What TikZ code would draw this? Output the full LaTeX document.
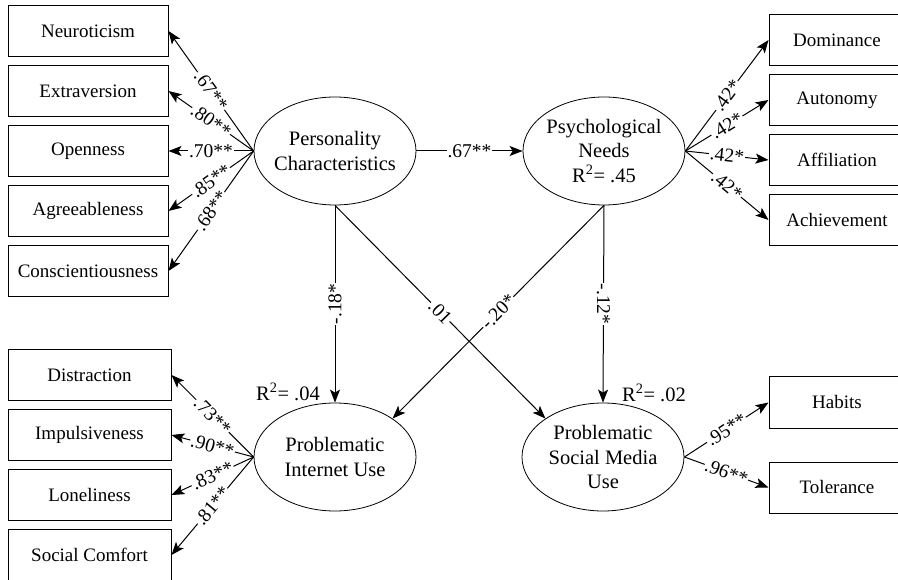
\documentclass[tikz,border=0pt]{standalone}
\usepackage{fontspec}
\setmainfont{Liberation Serif}
\usetikzlibrary{arrows.meta,shapes.geometric}

\tikzset{
  obsbox/.style={draw, line width=1pt, minimum height=51pt, inner sep=0pt, font=\fontsize{19}{22}\selectfont},
  latent/.style={draw, ellipse, line width=0.8pt, minimum width=162pt, minimum height=108pt,
    inner xsep=-5pt, inner ysep=0pt, align=center, font=\fontsize{20.5}{24.5}\selectfont},
  arr/.style={line width=1pt, -{Stealth[length=13pt,width=10pt,inset=3pt]}},
  lbl/.style={fill=white, inner sep=1pt, font=\fontsize{19.5}{22}\selectfont}
}

\begin{document}
\begin{tikzpicture}[x=1pt,y=-1pt]
    \useasboundingbox (0,0) rectangle (898,580);

    % draw latent variables
    \node[latent] (pc) at (335,151) {Personality\\Characteristics};
    \node[latent] (pn) at (604,151) {Psychological\\Needs\\R\textsuperscript{2}= .45};
    \node[latent] (piu) at (335,457) {Problematic\\Internet Use};
    \node[latent] (psmu) at (603,457) {Problematic\\Social Media\\Use};

    % draw personality indicators
    \foreach \name/\txt/\y/\val in {neuro/Neuroticism/31/.67**, extra/Extraversion/91/.80**,
        open/Openness/151/.70**, agree/Agreeableness/211/.85**, consc/Conscientiousness/271/.68**}
    {
        \node[obsbox, minimum width=160pt] (\name) at (88,\y) {\txt};
        \draw[arr] (pc.west) -- node[lbl, sloped]{\val} (\name.east);
    }

    % draw needs indicators
    \foreach \name/\txt/\y in {dom/Dominance/40, auto/Autonomy/100, affil/Affiliation/160, achiev/Achievement/220}
    {
        \node[obsbox, minimum width=136pt] (\name) at (837,\y) {\txt};
        \draw[arr] (pn.east) -- node[lbl, sloped]{.42*} (\name.west);
    }

    % draw internet use indicators
    \foreach \name/\txt/\y/\val in {distr/Distraction/375/.73**, impul/Impulsiveness/435/.90**,
        lonel/Loneliness/495/.83**, comf/Social Comfort/555/.81**}
    {
        \node[obsbox, minimum width=163pt] (\name) at (89.5,\y) {\txt};
        \draw[arr] (piu.west) -- node[lbl, sloped]{\val} (\name.east);
    }

    % draw social media indicators
    \foreach \name/\txt/\y/\val in {habit/Habits/402.5/.95**, toler/Tolerance/487.5/.96**}
    {
        \node[obsbox, minimum width=136pt] (\name) at (837,\y) {\txt};
        \draw[arr] (psmu.east) -- node[lbl, sloped]{\val} (\name.west);
    }

    % draw structural paths
    \draw[arr] (pc) -- node[lbl]{.67**} (pn);
    \draw[arr] (pc.south) -- node[lbl, rotate=90]{-.18*} (piu.north);
    \draw[arr] (pn.south) -- node[lbl, rotate=-90]{-.12*} (psmu.north);
    \draw[arr] (pc.south) -- node[lbl, sloped]{.01} (psmu.north west);
    \draw[arr] (pn.south) -- node[lbl, sloped]{-.20*} (piu.north east);

    % draw explained variance
    \node[font=\fontsize{20.5}{24}\selectfont] (r2piu) at (288,392) {R\textsuperscript{2}= .04};
    \node[font=\fontsize{20.5}{24}\selectfont] (r2psmu) at (654,393) {R\textsuperscript{2}= .02};
\end{tikzpicture}
\end{document}
